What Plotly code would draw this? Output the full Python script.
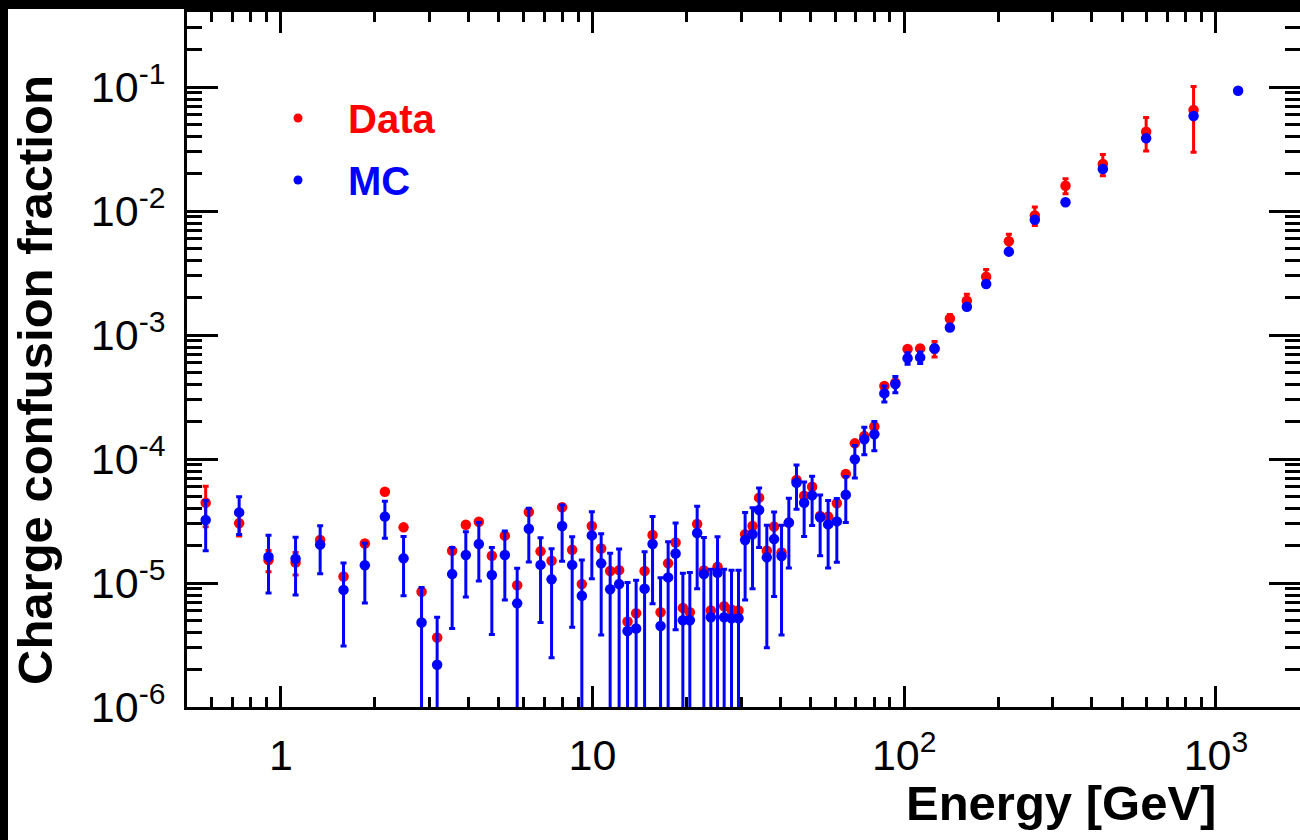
import math
import plotly.graph_objects as go

# ---------------- data ----------------
energy = [0.574, 0.735, 0.913, 1.115, 1.337, 1.589, 1.860, 2.157, 2.476, 2.828,
          3.173, 3.545, 3.922, 4.317, 4.753, 5.232, 5.731, 6.246, 6.811, 7.389,
          7.988, 8.604, 9.241, 9.949, 10.66, 11.39, 12.17, 12.95, 13.80, 14.69,
          15.58, 16.53, 17.48, 18.47, 19.49, 20.52, 21.66, 22.76, 23.96, 25.18,
          26.44, 27.92, 29.40, 30.87, 32.61, 34.23, 36.24, 38.24, 40.40, 42.64,
          45.12, 47.74, 50.64, 53.73, 57.00, 60.78, 64.94, 69.42, 74.47, 80.20,
          86.35, 93.65, 102.5, 112.5, 125.1, 140.1, 158.8, 183.2, 216.6, 262.4,
          329.2, 433.7, 597.2, 847.8, 1178.0]

data_frac = [4.44e-5, 3.03e-5, 1.53e-5, 1.46e-5, 2.22e-5, 1.13e-5, 2.08e-5, 5.45e-5, 2.81e-5, 8.5e-6,
             3.64e-6, 1.82e-5, 2.95e-5, 3.12e-5, 1.66e-5, 2.41e-5, 9.6e-6, 3.74e-5, 1.80e-5, 1.51e-5,
             4.08e-5, 1.85e-5, 9.8e-6, 2.88e-5, 1.90e-5, 1.25e-5, 1.27e-5, 4.9e-6, 5.7e-6, 1.25e-5,
             2.44e-5, 5.8e-6, 1.44e-5, 2.12e-5, 6.3e-6, 5.8e-6, 2.99e-5, 1.26e-5, 6.0e-6, 1.35e-5,
             6.5e-6, 6.1e-6, 6.0e-6, 2.47e-5, 2.88e-5, 4.88e-5, 1.82e-5, 2.85e-5, 1.76e-5, 3.07e-5,
             6.77e-5, 5.06e-5, 5.98e-5, 3.47e-5, 3.43e-5, 4.39e-5, 7.57e-5, 1.337e-4, 1.53e-4, 1.83e-4,
             3.88e-4, 4.13e-4, 7.7e-4, 7.8e-4, 7.75e-4, 1.36e-3, 1.89e-3, 2.95e-3, 5.7e-3, 9.2e-3,
             1.60e-2, 2.39e-2, 4.36e-2, 6.53e-2, None]

data_err = [1.6e-5, 6.4e-6, 3e-6, 3e-6, 0, 0, 0, 0, 0, 0,
            0, 0, 0, 0, 0, 0, 0, 0, 0, 0,
            0, 0, 0, 0, 0, 0, 0, 0, 0, 0,
            0, 0, 0, 0, 0, 0, 0, 0, 0, 0,
            0, 0, 0, 0, 0, 0, 0, 0, 0, 0,
            0, 0, 0, 0, 0, 0, 0, 0, 0, 0,
            0, 0, 0, 0, 1.1e-4, 1e-4, 2.4e-4, 4.3e-4, 7.9e-4, 1.55e-3,
            2.2e-3, 4.7e-3, 1.32e-2, 3.55e-2, 0]

mc_frac = [3.22e-5, 3.71e-5, 1.63e-5, 1.57e-5, 2.04e-5, 8.8e-6, 1.39e-5, 3.43e-5, 1.58e-5, 4.8e-6,
           2.19e-6, 1.18e-5, 1.68e-5, 2.06e-5, 1.16e-5, 1.68e-5, 6.85e-6, 2.74e-5, 1.40e-5, 1.07e-5,
           2.88e-5, 1.40e-5, 7.9e-6, 2.42e-5, 1.44e-5, 8.9e-6, 9.8e-6, 4.1e-6, 4.3e-6, 9.0e-6,
           2.06e-5, 4.5e-6, 1.11e-5, 1.73e-5, 5.0e-6, 5.0e-6, 2.53e-5, 1.18e-5, 5.3e-6, 1.21e-5,
           5.3e-6, 5.2e-6, 5.2e-6, 2.22e-5, 2.47e-5, 3.88e-5, 1.61e-5, 2.26e-5, 1.65e-5, 3.07e-5,
           6.44e-5, 4.44e-5, 5.09e-5, 3.39e-5, 2.97e-5, 3.14e-5, 5.15e-5, 9.94e-5, 1.44e-4, 1.585e-4,
           3.38e-4, 4.02e-4, 6.5e-4, 6.6e-4, 7.8e-4, 1.15e-3, 1.69e-3, 2.58e-3, 4.7e-3, 8.5e-3,
           1.175e-2, 2.18e-2, 3.86e-2, 5.84e-2, 9.34e-2]

mc_err = [1.4e-5, 1.25e-5, 8e-6, 7.7e-6, 8.5e-6, 5.7e-6, 7e-6, 1.13e-5, 7.9e-6, 4.4e-6,
          3.1e-6, 7.5e-6, 9.1e-6, 1.02e-5, 7.75e-6, 9.5e-6, 6.3e-6, 1.26e-5, 9.2e-6, 8.2e-6,
          1.38e-5, 9.6e-6, 7.4e-6, 1.34e-5, 1.06e-5, 8.45e-6, 9.0e-6, 6.0e-6, 6.2e-6, 8.9e-6,
          1.38e-5, 6.5e-6, 1.04e-5, 1.31e-5, 7.0e-6, 7.15e-6, 1.63e-5, 1.15e-5, 7.6e-6, 1.15e-5,
          7.6e-6, 7.5e-6, 7.5e-6, 1.49e-5, 1.57e-5, 1.95e-5, 1.31e-5, 1.48e-5, 1.27e-5, 1.75e-5,
          2.5e-5, 2.07e-5, 2.18e-5, 1.73e-5, 1.65e-5, 1.67e-5, 2.08e-5, 2.9e-5, 3.6e-5, 4.2e-5,
          5e-5, 6e-5, 7e-5, 7e-5, 5e-5, 5e-5, 7e-5, 1e-4, 1.5e-4, 2.5e-4,
          3.5e-4, 6e-4, 1e-3, 1.5e-3, 0]

series_names = ["Data", "MC"]
x_tick_vals = [1, 10, 100, 1000]
x_tick_text = ["1", "10", "10<sup>2</sup>", "10<sup>3</sup>"]
y_tick_vals = [1e-6, 1e-5, 1e-4, 1e-3, 1e-2, 1e-1]
y_tick_text = ["10<sup>-6</sup>", "10<sup>-5</sup>", "10<sup>-4</sup>",
               "10<sup>-3</sup>", "10<sup>-2</sup>", "10<sup>-1</sup>"]
x_title = "Energy [GeV]"
y_title = "Charge confusion fraction"

# ---------------- layout geometry ----------------
W, H = 1300, 840
PL, PR, PT, PB = 187, 1300, 12, 707          # plot-area box in pixels
X_DECADE = 311.7                             # px per decade
Y_DECADE = 124.0
x_lo = math.log10(0.5)
x_range = [x_lo, x_lo + (PR - PL) / X_DECADE]
y_range = [-6.0, -6.0 + (PB - PT) / Y_DECADE]

x_minor = [k * 10 ** n for n in range(-1, 4) for k in range(2, 10)]
y_minor = [k * 10 ** n for n in range(-6, 0) for k in range(2, 10)]


def px(x):
    return (x - PL) / (PR - PL)


def py(y):
    return (PB - y) / (PB - PT)


FONT = "Liberation Sans, Arial, Helvetica, sans-serif"
RED = "#ff0000"
BLUE = "#0000ff"

fig = go.Figure()
fig.add_trace(go.Scatter(
    x=energy, y=data_frac, mode="markers", name=series_names[0],
    marker=dict(color=RED, size=10.5, line=dict(width=0)),
    error_y=dict(type="data", array=data_err, visible=True, color=RED,
                 thickness=3, width=3),
    showlegend=False))
fig.add_trace(go.Scatter(
    x=energy, y=mc_frac, mode="markers", name=series_names[1],
    marker=dict(color=BLUE, size=10.5, line=dict(width=0)),
    error_y=dict(type="data", array=mc_err, visible=True, color=BLUE,
                 thickness=3, width=3),
    showlegend=False))

axis_common = dict(
    type="log", showgrid=False, zeroline=False, showline=True,
    linecolor="black", linewidth=3, mirror="ticks",
    ticks="inside", tickwidth=3, tickcolor="black",
    tickmode="array",
    tickfont=dict(family=FONT, size=43, color="black"),
)

fig.update_xaxes(
    **axis_common, range=x_range, tickvals=x_tick_vals, ticktext=x_tick_text,
    ticklen=21, ticklabelstandoff=8,
    minor=dict(tickmode="array", tickvals=x_minor, ticks="inside",
               ticklen=10, tickwidth=3, tickcolor="black", showgrid=False),
)
fig.update_yaxes(
    **axis_common, range=y_range, tickvals=y_tick_vals, ticktext=y_tick_text,
    ticklen=31, ticklabelstandoff=10,
    minor=dict(tickmode="array", tickvals=y_minor, ticks="inside",
               ticklen=15, tickwidth=3, tickcolor="black", showgrid=False),
)

shapes = [
    # black frame strips at the left and top of the canvas
    dict(type="rect", xref="paper", yref="paper", layer="above",
         x0=px(0), x1=px(8), y0=py(H), y1=py(0),
         fillcolor="black", line=dict(width=0)),
    dict(type="rect", xref="paper", yref="paper", layer="above",
         x0=px(0), x1=px(W), y0=py(9), y1=py(0),
         fillcolor="black", line=dict(width=0)),
]
# legend symbols
for (cy, col) in [(118, RED), (180, BLUE)]:
    shapes.append(dict(type="circle", xref="paper", yref="paper",
                       xsizemode="pixel", ysizemode="pixel",
                       xanchor=px(298), yanchor=py(cy),
                       x0=-4.5, x1=4.5, y0=-4.5, y1=4.5,
                       fillcolor=col, line=dict(width=0)))

annotations = [
    dict(text="<b>" + series_names[0] + "</b>", x=px(346), y=py(119),
         xref="paper", yref="paper", xanchor="left", yanchor="middle",
         showarrow=False, font=dict(family=FONT, size=40, color=RED)),
    dict(text="<b>" + series_names[1] + "</b>", x=px(346), y=py(181),
         xref="paper", yref="paper", xanchor="left", yanchor="middle",
         showarrow=False, font=dict(family=FONT, size=40, color=BLUE)),
    dict(text="<b>" + x_title + "</b>", x=px(1218), y=py(803),
         xref="paper", yref="paper", xanchor="right", yanchor="middle",
         showarrow=False, font=dict(family=FONT, size=49, color="black")),
    dict(text="<b>" + y_title + "</b>", x=px(35), y=py(380), textangle=-90,
         xref="paper", yref="paper", xanchor="center", yanchor="middle",
         showarrow=False, font=dict(family=FONT, size=49, color="black")),
]

fig.update_layout(
    width=W, height=H,
    margin=dict(l=PL, r=W - PR, t=PT, b=H - PB, autoexpand=False),
    paper_bgcolor="white", plot_bgcolor="white",
    shapes=shapes, annotations=annotations, showlegend=False,
)

fig.write_html(
    "out.html",
    config={"displayModeBar": False},
    post_script="document.body.style.margin='0px';"
                "document.body.style.overflow='hidden';",
)
